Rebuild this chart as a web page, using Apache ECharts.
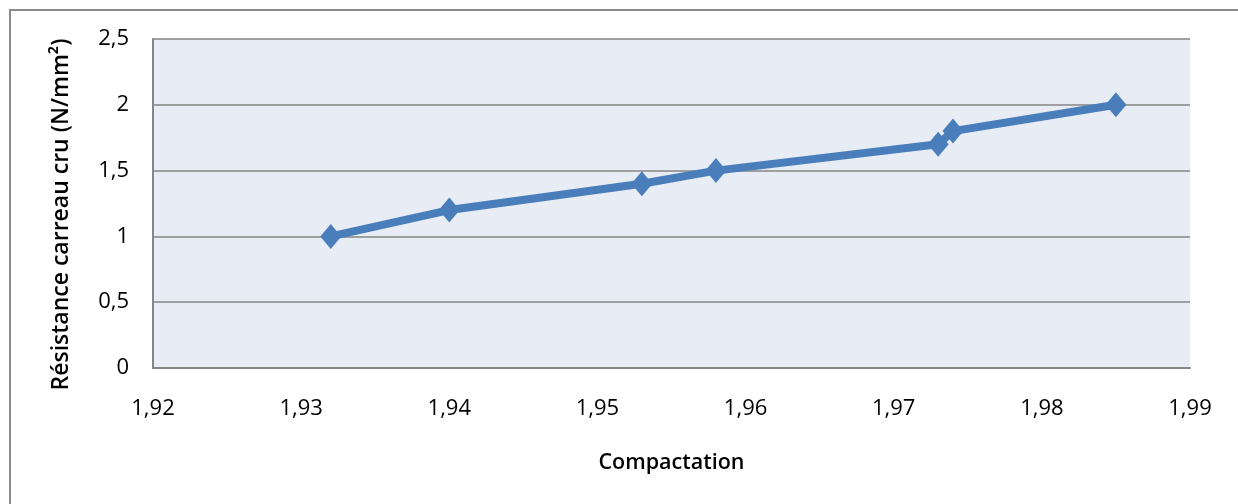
<!DOCTYPE html>
<html>
<head>
<meta charset="utf-8">
<script src="https://cdn.jsdelivr.net/npm/echarts@6/dist/echarts.min.js"></script>
<style>
  html, body { margin: 0; padding: 0; background: #fff; }
  #frame { position: absolute; left: 9px; top: 9px; width: 1240px; height: 500px;
           border-left: 2px solid #8a8a8a; border-top: 2px solid #8a8a8a; box-sizing: border-box; }
  #chart { position: absolute; left: 0; top: 0; width: 1238px; height: 504px; }
</style>
</head>
<body>
<div id="frame"></div>
<div id="chart"></div>
<script>
// Compactation vs. green tile strength
const compactation = [1.932, 1.940, 1.953, 1.958, 1.973, 1.974, 1.985];
const resistance = [1.0, 1.2, 1.4, 1.5, 1.7, 1.8, 2.0];
const xTitle = 'Compactation';
const yTitle = 'Résistance carreau cru (N/mm²)';

const chart = echarts.init(document.getElementById('chart'), null, { renderer: 'canvas' });
const font = '"Open Sans", Lato, sans-serif';

chart.setOption({
  animation: false,
  grid: { left: 153, right: 48, top: 39, bottom: 136, show: true, backgroundColor: '#e8ecf4', borderWidth: 0 },
  xAxis: {
    type: 'value', min: 1.92, max: 1.99, interval: 0.01,
    name: xTitle, nameLocation: 'middle', nameGap: 84,
    nameTextStyle: { fontFamily: font, fontSize: 21.5, fontWeight: 600, color: '#000' },
    axisLine: { show: true, lineStyle: { color: '#868686', width: 2 } },
    axisTick: { show: false },
    splitLine: { show: false },
    axisLabel: { fontFamily: font, fontSize: 22, color: '#000', margin: 30,
                 formatter: (v) => v.toFixed(2).replace('.', ',') }
  },
  yAxis: {
    type: 'value', min: 0, max: 2.5, interval: 0.5,
    name: yTitle, nameLocation: 'middle', nameGap: 80, nameRotate: 90,
    nameTextStyle: { fontFamily: font, fontSize: 23, fontWeight: 600, color: '#000', padding: [0, 22, 0, 0] },
    axisLine: { show: true, lineStyle: { color: '#868686', width: 2 } },
    axisTick: { show: false },
    splitLine: { show: true, lineStyle: { color: '#868686', width: 1.5 } },
    axisLabel: { fontFamily: font, fontSize: 22, color: '#000', margin: 24,
                 formatter: (v) => String(v).replace('.', ',') }
  },
  series: [{
    type: 'line',
    data: compactation.map((x, i) => [x, resistance[i]]),
    symbol: 'diamond', symbolSize: [21, 25],
    lineStyle: { color: '#4a7ebb', width: 8 },
    itemStyle: { color: '#4a7ebb' }
  }]
});
</script>
</body>
</html>
